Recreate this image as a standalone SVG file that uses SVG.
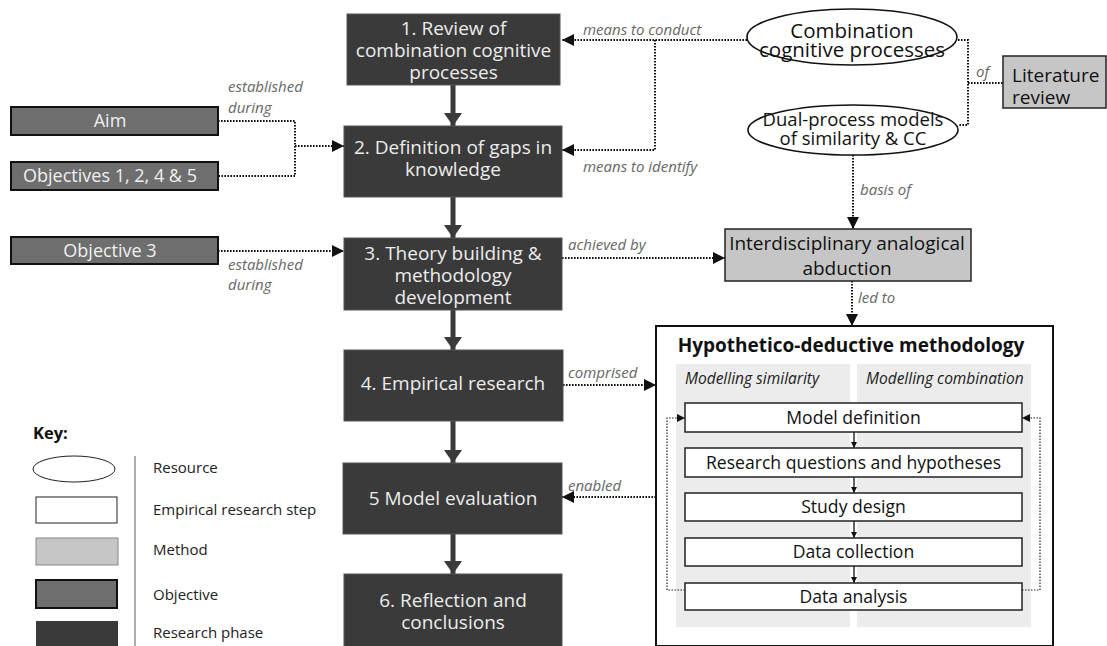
<svg xmlns="http://www.w3.org/2000/svg" width="1107" height="646" viewBox="0 0 1107 646">
  <defs>
    <style>
      text { font-family: "Open Sans", "Liberation Sans", sans-serif; }
      .phase rect { fill: #3a3a3a; stroke: #555; stroke-width: 1; }
      .phase text { fill: #ececec; font-size: 19px; text-anchor: middle; }
      .obj rect { fill: #6e6e6e; stroke: #111; stroke-width: 2; }
      .obj text { fill: #f0f0f0; font-size: 18px; text-anchor: middle; }
      .res ellipse { fill: #fff; stroke: #111; stroke-width: 1.6; }
      .res text { fill: #111; font-size: 18.5px; text-anchor: middle; }
      .res text.big { font-size: 20.5px; }
      .method rect { fill: #c6c6c6; stroke: #222; stroke-width: 1.5; }
      .method text { fill: #111; font-size: 19px; }
      .step rect { fill: #fff; stroke: #222; stroke-width: 1.5; }
      .step text { fill: #111; font-size: 17.6px; text-anchor: middle; }
      .lbl { fill: #666; font-size: 15px; font-style: italic; }
      .sub { fill: #222; font-size: 15.5px; font-style: italic; }
      .dot { fill: none; stroke: #111; stroke-width: 2; stroke-dasharray: 1.6 1.4; }
      .dotthin { fill: none; stroke: #222; stroke-width: 1.2; stroke-dasharray: 1.5 1.5; }
      .flow { stroke: #3a3a3a; stroke-width: 5; }
      .stepflow { stroke: #111; stroke-width: 1.3; }
      .key text { fill: #222; font-size: 15px; }
    </style>
    <marker id="ah" viewBox="0 0 12 12" refX="12" refY="6" markerWidth="12" markerHeight="13" markerUnits="userSpaceOnUse" orient="auto">
      <path d="M0,0 L12,6 L0,12 Z" fill="#111"/>
    </marker>
    <marker id="ahs" viewBox="0 0 8 8" refX="8" refY="4" markerWidth="8" markerHeight="8" markerUnits="userSpaceOnUse" orient="auto">
      <path d="M0,0 L8,4 L0,8 Z" fill="#111"/>
    </marker>
    <marker id="aht" viewBox="0 0 6 6" refX="6" refY="3" markerWidth="6" markerHeight="6" markerUnits="userSpaceOnUse" orient="auto">
      <path d="M0,0 L6,3 L0,6 Z" fill="#111"/>
    </marker>
    <marker id="ahf" viewBox="0 0 13 18" refX="13" refY="9" markerWidth="13" markerHeight="18" markerUnits="userSpaceOnUse" orient="auto">
      <path d="M0,0 L13,9 L0,18 Z" fill="#3a3a3a"/>
    </marker>
  </defs>

  <rect width="1107" height="646" fill="#fff"/>

  <!-- methodology container -->
  <g id="hypothetico-deductive">
    <rect x="656" y="326" width="397" height="320" fill="#fff" stroke="#111" stroke-width="2"/>
    <text x="851" y="352" font-size="19" font-weight="bold" text-anchor="middle" fill="#111">Hypothetico-deductive methodology</text>
    <rect x="676" y="364" width="174" height="263" fill="#ececec"/>
    <rect x="857" y="364" width="174" height="263" fill="#ececec"/>
    <text class="sub" x="685" y="384">Modelling similarity</text>
    <text class="sub" x="866" y="384">Modelling combination</text>
  </g>

  <!-- connectors -->
  <g id="connectors">
    <!-- phase sequence -->
    <line class="flow" x1="453" y1="85" x2="453" y2="126" marker-end="url(#ahf)"/>
    <line class="flow" x1="453" y1="197" x2="453" y2="238" marker-end="url(#ahf)"/>
    <line class="flow" x1="453" y1="310" x2="453" y2="350" marker-end="url(#ahf)"/>
    <line class="flow" x1="453" y1="421" x2="453" y2="463" marker-end="url(#ahf)"/>
    <line class="flow" x1="453" y1="534" x2="453" y2="574" marker-end="url(#ahf)"/>

    <!-- objectives to phases -->
    <polyline class="dot" points="218,121 295,121 295,176 218,176"/>
    <polyline class="dot" points="295,146 344,146" marker-end="url(#ah)"/>
    <polyline class="dot" points="218,251 344,251" marker-end="url(#ah)"/>

    <!-- resources -->
    <polyline class="dot" points="747,40 562,40" marker-end="url(#ah)"/>
    <polyline class="dot" points="655,40 655,150 562,150" marker-end="url(#ah)"/>
    <polyline class="dot" points="958,40 968,40 968,125 959,125"/>
    <polyline class="dot" points="968,83 1003,83"/>
    <polyline class="dot" points="853,155 853,229" marker-end="url(#ah)"/>

    <!-- method -->
    <polyline class="dot" points="562,258 725,258" marker-end="url(#ah)"/>
    <polyline class="dot" points="852,281 852,326" marker-end="url(#ah)"/>

    <!-- empirical research -->
    <polyline class="dot" points="563,385 656,385" marker-end="url(#ah)"/>
    <polyline class="dot" points="656,497 562,497" marker-end="url(#ah)"/>

    <!-- step sequence -->
    <line class="stepflow" x1="854" y1="432" x2="854" y2="448" marker-end="url(#aht)"/>
    <line class="stepflow" x1="854" y1="477" x2="854" y2="493" marker-end="url(#aht)"/>
    <line class="stepflow" x1="854" y1="521" x2="854" y2="538" marker-end="url(#aht)"/>
    <line class="stepflow" x1="854" y1="566" x2="854" y2="583" marker-end="url(#aht)"/>

    <!-- feedback loops -->
    <polyline class="dotthin" points="685,590 667,590 667,418 685,418" marker-end="url(#ahs)"/>
    <polyline class="dotthin" points="1022,590 1040,590 1040,418 1022,418" marker-end="url(#ahs)"/>

    <!-- connector labels -->
    <text class="lbl" x="228" y="92">established</text>
    <text class="lbl" x="228" y="113">during</text>
    <text class="lbl" x="228" y="270">established</text>
    <text class="lbl" x="228" y="290">during</text>
    <text class="lbl" x="583" y="35">means to conduct</text>
    <text class="lbl" x="583" y="172">means to identify</text>
    <text class="lbl" x="976" y="77">of</text>
    <text class="lbl" x="860" y="195">basis of</text>
    <text class="lbl" x="568" y="250">achieved by</text>
    <text class="lbl" x="858" y="303">led to</text>
    <text class="lbl" x="568" y="378">comprised</text>
    <text class="lbl" x="568" y="491">enabled</text>
  </g>

  <!-- research phases -->
  <g id="phase1" class="phase">
    <rect x="347" y="14" width="213" height="71"/>
    <text x="453.5" y="35">1. Review of</text>
    <text x="453.5" y="57">combination cognitive</text>
    <text x="453.5" y="79">processes</text>
  </g>
  <g id="phase2" class="phase">
    <rect x="344" y="126" width="218" height="71"/>
    <text x="453" y="154">2. Definition of gaps in</text>
    <text x="453" y="176">knowledge</text>
  </g>
  <g id="phase3" class="phase">
    <rect x="344" y="238" width="218" height="72"/>
    <text x="453" y="260">3. Theory building &amp;</text>
    <text x="453" y="282">methodology</text>
    <text x="453" y="304">development</text>
  </g>
  <g id="phase4" class="phase">
    <rect x="344" y="350" width="219" height="71"/>
    <text x="453" y="390">4. Empirical research</text>
  </g>
  <g id="phase5" class="phase">
    <rect x="343" y="463" width="219" height="71"/>
    <text x="453" y="505">5 Model evaluation</text>
  </g>
  <g id="phase6" class="phase">
    <rect x="344" y="574" width="218" height="80"/>
    <text x="453" y="607">6. Reflection and</text>
    <text x="453" y="629">conclusions</text>
  </g>

  <!-- objectives -->
  <g id="aim" class="obj">
    <rect x="11" y="107" width="207" height="28"/>
    <text x="110" y="127">Aim</text>
  </g>
  <g id="objectives-1245" class="obj">
    <rect x="11" y="162" width="207" height="28"/>
    <text x="110" y="182">Objectives 1, 2, 4 &amp; 5</text>
  </g>
  <g id="objective-3" class="obj">
    <rect x="11" y="237" width="207" height="27"/>
    <text x="110" y="257">Objective 3</text>
  </g>

  <!-- resources -->
  <g id="combination-cognitive-processes" class="res">
    <ellipse cx="852" cy="37" rx="105" ry="28"/>
    <text class="big" x="852" y="38">Combination</text>
    <text class="big" x="852" y="57">cognitive processes</text>
  </g>
  <g id="dual-process-models" class="res">
    <ellipse cx="853" cy="130" rx="105" ry="25"/>
    <text x="853" y="126">Dual-process models</text>
    <text x="853" y="145">of similarity &amp; CC</text>
  </g>

  <!-- methods -->
  <g id="literature-review" class="method">
    <rect x="1003" y="56" width="103" height="52"/>
    <text x="1012" y="82">Literature</text>
    <text x="1012" y="104">review</text>
  </g>
  <g id="analogical-abduction" class="method">
    <rect x="725" y="229" width="246" height="52"/>
    <text x="847" y="250" text-anchor="middle">Interdisciplinary analogical</text>
    <text x="847" y="275" text-anchor="middle">abduction</text>
  </g>

  <!-- empirical research steps -->
  <g id="model-definition" class="step">
    <rect x="685" y="403" width="337" height="29"/>
    <text x="853.5" y="424">Model definition</text>
  </g>
  <g id="research-questions" class="step">
    <rect x="685" y="448" width="337" height="29"/>
    <text x="853.5" y="469">Research questions and hypotheses</text>
  </g>
  <g id="study-design" class="step">
    <rect x="685" y="493" width="337" height="28"/>
    <text x="853.5" y="513">Study design</text>
  </g>
  <g id="data-collection" class="step">
    <rect x="685" y="538" width="337" height="28"/>
    <text x="853.5" y="558">Data collection</text>
  </g>
  <g id="data-analysis" class="step">
    <rect x="685" y="583" width="337" height="27"/>
    <text x="853.5" y="603">Data analysis</text>
  </g>

  <!-- key -->
  <g id="key" class="key">
    <text x="33" y="439" style="font-size:16.5px;font-weight:bold;fill:#111">Key:</text>
    <ellipse cx="74" cy="469" rx="41" ry="13" fill="#fff" stroke="#222" stroke-width="1"/>
    <rect x="36" y="497" width="81" height="26" fill="#fff" stroke="#222" stroke-width="1"/>
    <rect x="36" y="538" width="82" height="27" fill="#c6c6c6" stroke="#888" stroke-width="1"/>
    <rect x="36" y="580" width="81" height="28" fill="#6e6e6e" stroke="#111" stroke-width="2"/>
    <rect x="36" y="621" width="82" height="30" fill="#3a3a3a"/>
    <line x1="135" y1="456" x2="135" y2="646" stroke="#777" stroke-width="1.2"/>
    <text x="153" y="473">Resource</text>
    <text x="153" y="515">Empirical research step</text>
    <text x="153" y="555">Method</text>
    <text x="153" y="600">Objective</text>
    <text x="153" y="638">Research phase</text>
  </g>
</svg>
